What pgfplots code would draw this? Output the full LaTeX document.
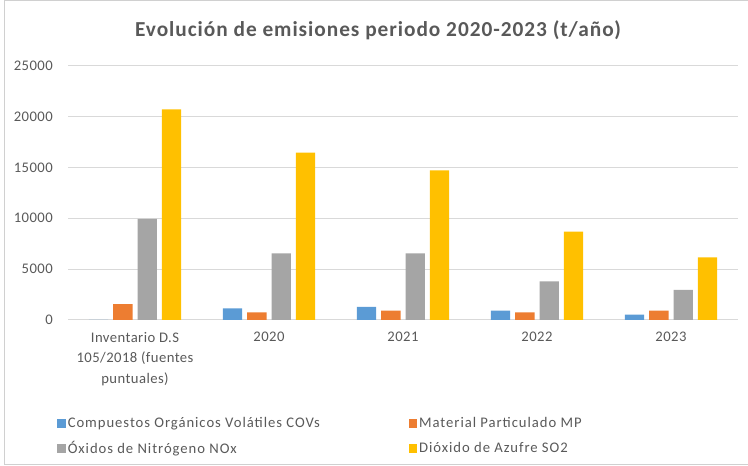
\documentclass[border=0pt]{standalone}
\usepackage{pgfplots}
\pgfplotsset{compat=1.18}
\usepackage{fontspec}
\setmainfont{Carlito}
\newfontfamily\titlefont[LetterSpace=4.5]{Carlito}
\newfontfamily\tickfont[LetterSpace=3]{Carlito}
\newfontfamily\legfont[LetterSpace=6.5]{Carlito}
\definecolor{cblue}{HTML}{5B9BD5}
\definecolor{corange}{HTML}{ED7D31}
\definecolor{cgray}{HTML}{A5A5A5}
\definecolor{cyellow}{HTML}{FFC000}
\definecolor{textgray}{HTML}{595959}
\definecolor{gridgray}{HTML}{D9D9D9}
\definecolor{bordergray}{HTML}{D0D0D0}
\pgfplotsset{legsq/.style={legend image code/.code={\fill[##1] (0pt,-3.2pt) rectangle (6.4pt,3.2pt);}}}
\begin{document}
\begin{tikzpicture}[x=0.75pt,y=0.75pt]
\useasboundingbox (0,0) rectangle (748,466);
\draw[bordergray, line width=0.75pt] (748,465) -- (4.5,465) -- (4.5,1) -- (748,1);
\node[font=\titlefont\fontsize{16}{19}\selectfont\bfseries, text=textgray] at (378,436) {Evolución de emisiones periodo 2020-2023 (t/año)};
\begin{axis}[
  at={(51pt,109.5pt)}, anchor=south west,
  scale only axis, width=502.5pt, height=190.7pt,
  ymin=0, ymax=25000, ytick={0,5000,10000,15000,20000,25000},
  scaled y ticks=false,
  xmin=-0.5, xmax=4.5, xtick={0,1,2,3,4},
  xticklabels={{Inventario D.S\\105/2018 (fuentes\\puntuales)},2020,2021,2022,2023},
  ymajorgrids, grid style={gridgray, line width=0.75pt},
  axis line style={draw=none}, major tick length=0pt,
  /pgf/number format/.cd, 1000 sep={}, assume math mode=true, /pgfplots/.cd,
  ticklabel style={font=\tickfont\fontsize{11}{15.4}\selectfont, text=textgray},
  yticklabel style={inner sep=0pt, xshift=-11.25pt},
  xticklabel style={align=center, inner sep=0pt, yshift=-9pt},
  ybar=3.75pt, bar width=14.5pt,
  legend columns=2,
  legend style={draw=none, fill=none, at={(-0.0164,-0.375)}, anchor=north west,
    font=\legfont\fontsize{11}{13}\selectfont, text=textgray, inner sep=0pt,
    nodes={inner sep=1.5pt}, row sep=5.5pt,
    /tikz/every even column/.append style={column sep=65pt}},
  legend cell align=left,
]
\addplot[fill=cblue, draw=none, legsq] coordinates {(0,0) (1,1150) (2,1280) (3,910) (4,520)};
\addplot[fill=corange, draw=none, legsq] coordinates {(0,1550) (1,760) (2,910) (3,760) (4,910)};
\addplot[fill=cgray, draw=none, legsq] coordinates {(0,9950) (1,6550) (2,6550) (3,3800) (4,2950)};
\addplot[fill=cyellow, draw=none, legsq] coordinates {(0,20700) (1,16450) (2,14720) (3,8680) (4,6160)};
\legend{Compuestos Orgánicos Volátiles COVs, Material Particulado MP, Óxidos de Nitrógeno NOx, Dióxido de Azufre SO2}
\end{axis}
\end{tikzpicture}
\end{document}
